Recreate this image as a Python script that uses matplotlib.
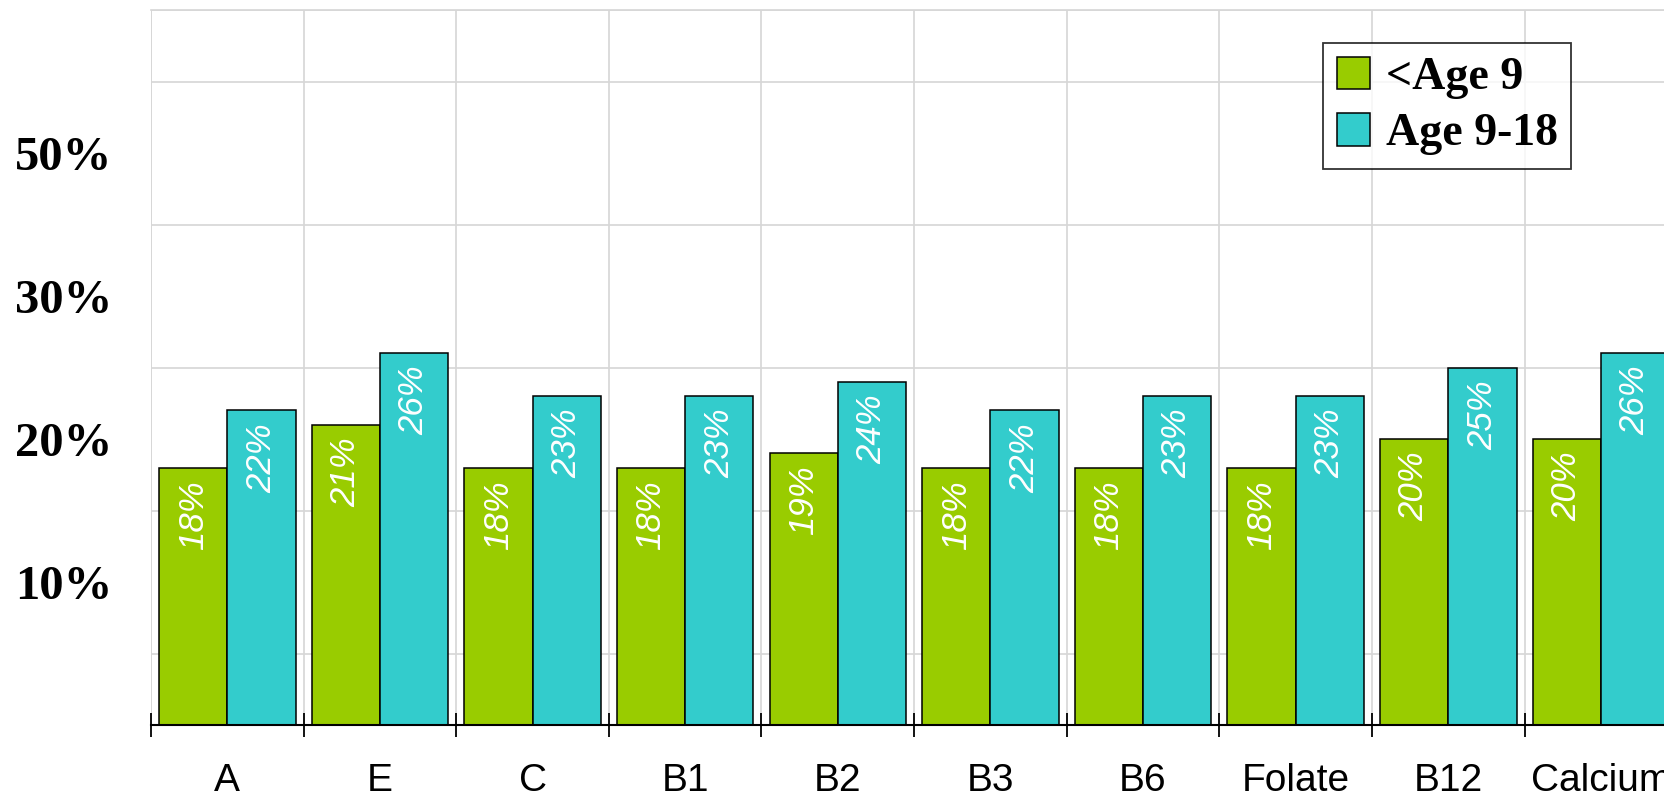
import matplotlib
matplotlib.use("Agg")
import matplotlib.pyplot as plt
import numpy as np

# nutrient categories and share of each age group
nutrients = ["A", "E", "C", "B1", "B2", "B3", "B6", "Folate", "B12", "Calcium"]
under_9 = [18, 21, 18, 18, 19, 18, 18, 18, 20, 20]
age_9_18 = [22, 26, 23, 23, 24, 22, 23, 23, 25, 26]
series_names = ["<Age 9", "Age 9-18"]
ytick_vals = [10, 20, 30, 40]
ytick_text = ["10%", "20%", "30%", "50%"]

GREEN = "#99CC00"
CYAN = "#33CCCC"
GRID = "#d6d6d6"

fig = plt.figure(figsize=(16.65, 7.97), dpi=100)
ax = fig.add_axes([0.0907, 0.0903, 0.9093, 0.897])

x = np.arange(len(nutrients)) + 0.5
w = 0.447
bars_a = ax.bar(x - w / 2, under_9, w, color=GREEN, edgecolor="black",
                linewidth=1.1, label=series_names[0], zorder=3)
bars_b = ax.bar(x + w / 2, age_9_18, w, color=CYAN, edgecolor="black",
                linewidth=1.1, label=series_names[1], zorder=3)

# value labels, rotated, hanging from the top of each bar
for bars, vals in ((bars_a, under_9), (bars_b, age_9_18)):
    for rect, v in zip(bars, vals):
        ax.annotate(f"{v}%", (rect.get_x() + rect.get_width() / 2, v),
                    xytext=(0, -9), textcoords="offset points",
                    rotation=90, ha="center", va="top", color="white",
                    fontsize=25, fontstyle="italic",
                    family="Liberation Sans", zorder=4, clip_on=True)

# boundaries between groups carry tick marks and vertical grid
ax.set_xticks(np.arange(len(nutrients) + 1))
ax.set_xticklabels([])
ax.set_xticks(x, minor=True)
ax.set_xticklabels(nutrients, minor=True, family="Liberation Sans",
                   fontsize=28)
ax.tick_params(axis="x", which="major", direction="inout", length=17,
               width=1.3, color="black")
ax.tick_params(axis="x", which="minor", length=0, pad=27)

ax.set_yticks(np.arange(0, 51, 5), minor=True)
ax.set_yticks(ytick_vals)
ax.set_yticklabels(ytick_text, family="Liberation Serif",
                   fontweight="bold", fontsize=35)
ax.tick_params(axis="y", which="both", length=0, pad=28)

# limits after the ticks; the last group runs off the right edge
ax.set_xlim(0, 9.92)
ax.set_ylim(0, 50)

ax.grid(True, axis="x", which="major", color=GRID, linewidth=1.2, zorder=0)
ax.grid(True, axis="y", which="minor", color=GRID, linewidth=1.2, zorder=0)
ax.set_axisbelow(True)

for side in ("top", "right", "left"):
    ax.spines[side].set_visible(False)
ax.spines["bottom"].set_color("black")
ax.spines["bottom"].set_linewidth(1.5)
ax.spines["bottom"].set_zorder(5)
ax.axvline(0, color=GRID, linewidth=1.2, zorder=0)
ax.axhline(50, color=GRID, linewidth=1.2, zorder=0, clip_on=False)

leg = ax.legend(loc="upper left", bbox_to_anchor=(0.774, 0.954),
                prop={"family": "Liberation Serif", "weight": "bold",
                      "size": 33},
                frameon=True, fancybox=False, edgecolor="black",
                handlelength=0.72, handleheight=0.72, handletextpad=0.35,
                borderpad=0.3, labelspacing=0.3, borderaxespad=0)
leg.get_frame().set_linewidth(1.3)
leg.set_zorder(6)

fig.savefig("out.png", dpi=100)
